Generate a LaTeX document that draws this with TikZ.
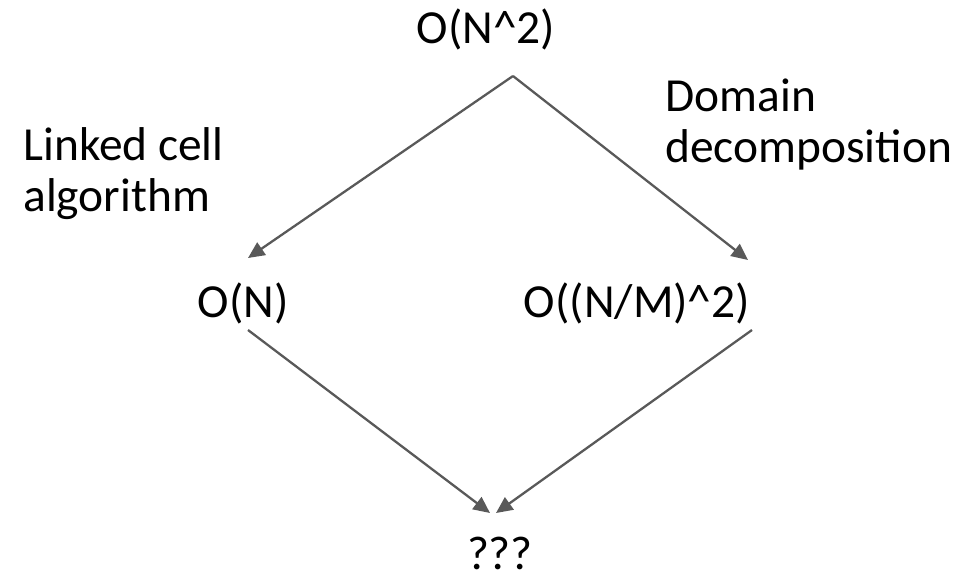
\documentclass[tikz,border=0pt]{standalone}
\usepackage{fontspec}
\setmainfont{Carlito}
\usepackage{tikz}
\usetikzlibrary{arrows.meta}

\begin{document}
\begin{tikzpicture}[x=0.02cm,y=-0.02cm,
                    >={Triangle[length=0.33cm,width=0.3cm]},
                    every node/.style={font=\fontsize{27}{29}\selectfont,inner sep=0pt},
                    reduce/.style={draw=black!65,line width=1.3pt,->}]
\useasboundingbox (0,0) rectangle (961,582);
\node[anchor=base] (n2) at (486,43) {O(N\^{}2)};
\node[anchor=base] (n1) at (243,317) {O(N)};
\node[anchor=base] (nm) at (637,317) {O((N/M)\^{}2)};
\node[anchor=base] (q) at (500,569) {???};
\node[anchor=north west,align=left] (lc) at (23,127) {Linked cell\\algorithm};
\node[anchor=north west,align=left] (dd) at (665,79) {Domain\\decomposition};
\coordinate (top) at (513,76);
\coordinate (lt) at (248,258);
\coordinate (rt) at (748,260);
\coordinate (lb) at (248,330);
\coordinate (rb) at (752,330);
\coordinate (ql) at (490,513);
\coordinate (qr) at (496,513);
\draw[reduce] (top) -- (lt);
\draw[reduce] (top) -- (rt);
\draw[reduce] (lb) -- (ql);
\draw[reduce] (rb) -- (qr);
\end{tikzpicture}
\end{document}
